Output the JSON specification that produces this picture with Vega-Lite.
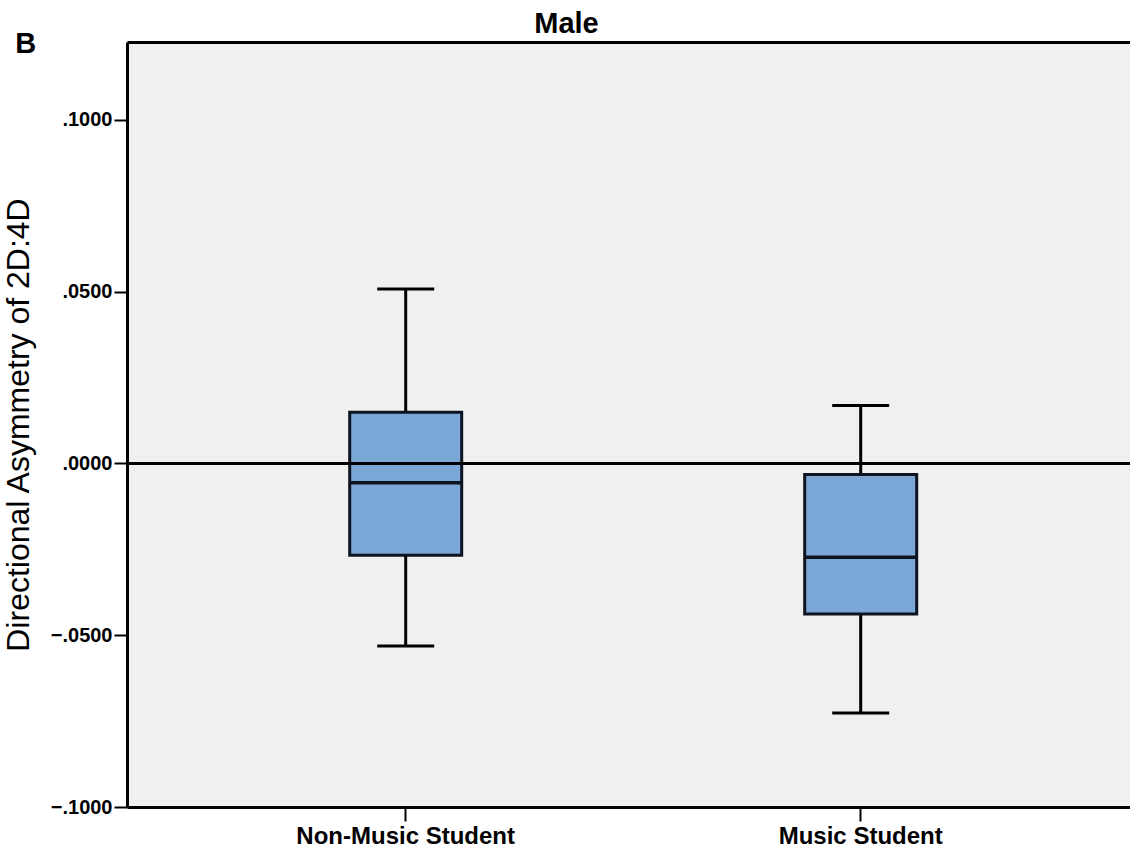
{
  "$schema": "https://vega.github.io/schema/vega-lite/v6.json",
  "autosize": {"type": "none"},
  "padding": {"left": 127, "top": 42, "right": 0, "bottom": 48},
  "width": 1003,
  "height": 765,
  "background": "white",
  "config": {
    "view": {"stroke": null, "fill": "#f0f0f0"},
    "font": "Liberation Sans"
  },
  "title": {
    "text": "B",
    "anchor": "start",
    "frame": "bounds",
    "fontSize": 29,
    "fontWeight": "bold",
    "color": "black",
    "dx": 13,
    "dy": 54
  },
  "data": {
    "values": [
      {"group": "Non-Music Student", "lower": -0.0531, "q1": -0.0267, "median": -0.0056, "q3": 0.0149, "upper": 0.0508},
      {"group": "Music Student", "lower": -0.0726, "q1": -0.0438, "median": -0.0273, "q3": -0.0032, "upper": 0.0169}
    ]
  },
  "layer": [
    {
      "mark": {"type": "rule", "color": "black", "strokeWidth": 3},
      "encoding": {
        "x": {
          "field": "group", "type": "nominal",
          "sort": ["Non-Music Student", "Music Student"],
          "scale": {"type": "band", "paddingInner": 0, "paddingOuter": 0.1022, "align": 0.5505},
          "axis": {
            "orient": "bottom", "title": null, "labelAngle": 0, "labelLimit": 0,
            "labelFontSize": 24, "labelFontWeight": "bold", "labelColor": "black",
            "tickSize": 14, "tickWidth": 2, "tickColor": "black",
            "domainColor": "black", "domainWidth": 3, "labelPadding": 3
          }
        },
        "y": {
          "field": "lower", "type": "quantitative",
          "scale": {"domain": [-0.1, 0.1227], "nice": false, "zero": false},
          "axis": {
            "title": "Directional Asymmetry of 2D:4D",
            "titleFontSize": 32, "titleFontWeight": "normal", "titleColor": "black",
            "titlePadding": 15,
            "values": [-0.1, -0.05, 0, 0.05, 0.1],
            "labelExpr": "replace(format(datum.value, '.4f'), '0.', '.')",
            "labelFontSize": 20, "labelFontWeight": "bold", "labelColor": "black",
            "tickSize": 13, "tickWidth": 2, "tickColor": "black",
            "domainColor": "black", "domainWidth": 3, "grid": false, "labelPadding": 2
          }
        },
        "y2": {"field": "upper"}
      }
    },
    {
      "mark": {"type": "tick", "color": "black", "opacity": 1, "thickness": 3, "size": 57},
      "encoding": {
        "x": {
          "field": "group", "type": "nominal",
          "sort": ["Non-Music Student", "Music Student"],
          "axis": {
            "orient": "top", "title": "Male", "labels": false, "ticks": false,
            "domainColor": "black", "domainWidth": 3,
            "titleFontSize": 29, "titleFontWeight": "bold", "titleColor": "black",
            "titlePadding": 4, "titleX": 439, "titleAlign": "center"
          }
        },
        "y": {"field": "upper", "type": "quantitative"}
      }
    },
    {
      "mark": {"type": "tick", "color": "black", "opacity": 1, "thickness": 3, "size": 57},
      "encoding": {
        "x": {"field": "group", "type": "nominal", "sort": ["Non-Music Student", "Music Student"], "axis": null},
        "y": {"field": "lower", "type": "quantitative"}
      }
    },
    {
      "mark": {"type": "bar", "fill": "#7aa7d6", "opacity": 1, "stroke": "#0d1321", "strokeWidth": 3, "size": 112},
      "encoding": {
        "x": {"field": "group", "type": "nominal", "sort": ["Non-Music Student", "Music Student"], "axis": null},
        "y": {"field": "q1", "type": "quantitative"},
        "y2": {"field": "q3"}
      }
    },
    {
      "mark": {"type": "tick", "color": "#0d1321", "opacity": 1, "thickness": 3.5, "size": 112},
      "encoding": {
        "x": {"field": "group", "type": "nominal", "sort": ["Non-Music Student", "Music Student"], "axis": null},
        "y": {"field": "median", "type": "quantitative"}
      }
    },
    {
      "mark": {"type": "rule", "color": "black", "strokeWidth": 3},
      "encoding": {"y": {"datum": 0}}
    }
  ]
}
